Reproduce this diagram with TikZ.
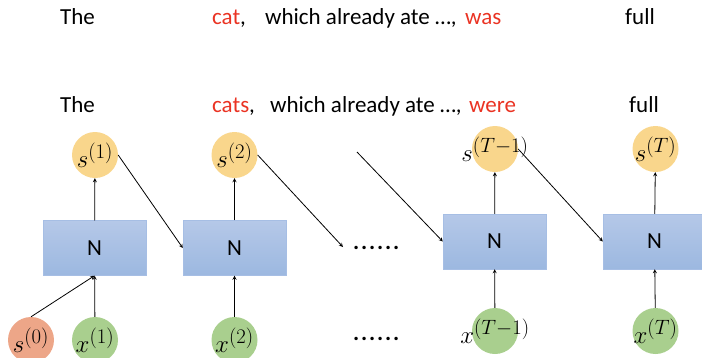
\documentclass[tikz,border=0pt]{standalone}
\usepackage{fontspec}
\setmainfont{Carlito}
\usepackage{amsmath}
\usepackage{tikz}
\usetikzlibrary{arrows}

\definecolor{wordred}{RGB}{234,51,35}
\definecolor{stategold}{RGB}{249,214,140}
\definecolor{inputgreen}{RGB}{169,207,142}
\definecolor{initsalmon}{RGB}{237,166,136}
\definecolor{celltop}{RGB}{181,200,232}
\definecolor{cellbot}{RGB}{156,184,224}
\definecolor{celledge}{RGB}{166,190,228}

% labels wider than the circle must not grow it
\newcommand{\steplabel}[1]{\makebox[0pt]{$#1$}}

\tikzset{
	word/.style={anchor=base west,inner sep=0pt,font=\fontsize{23}{27}\selectfont},
	cell/.style={draw=celledge,top color=celltop,bottom color=cellbot,minimum width=103pt,minimum height=55pt,inner sep=0pt,font=\fontsize{23}{27}\selectfont},
	state/.style={circle,fill=stategold,minimum size=46pt,inner sep=0pt,font=\fontsize{28}{30}\selectfont},
	input/.style={state,fill=inputgreen},
	gap/.style={word,font=\fontsize{23}{27}\selectfont\bfseries\addfontfeature{LetterSpace=8}},
	link/.style={line width=0.8pt,-stealth}
}

\begin{document}
\begin{tikzpicture}[x=1pt,y=-1pt]
	\useasboundingbox (0,0) rectangle (702,357);
	
	%sentences
	\node[word] (the1) at (60,24) {The};
	\node[word] (cat) at (212,24) {\textcolor{wordred}{cat},};
	\node[word] (mid1) at (265,24) {which already ate …,};
	\node[word,wordred] (was) at (465,24) {was};
	\node[word] (full1) at (625,24) {full};
	\node[word] (the2) at (60,112) {The};
	\node[word] (cats) at (212,112) {\textcolor{wordred}{cats},};
	\node[word] (mid2) at (270,112) {which already ate …,};
	\node[word,wordred] (were) at (469,112) {were};
	\node[word] (full2) at (629,112) {full};
	
	%cells
	\node[cell] (n1) at (94.5,248) {N};
	\node[cell] (n2) at (234.5,248) {N};
	\node[cell] (n3) at (494.5,241.5) {N};
	\node[cell] (n4) at (654.5,241.5) {N};
	
	%states
	\node[state] (s1) at (95,155) {\steplabel{s^{(1)}}};
	\node[state] (s2) at (234.5,155) {\steplabel{s^{(2)}}};
	\node[state] (s3) at (495,149) {\steplabel{s^{(T-1)}}};
	\node[state] (s4) at (655.5,149) {\steplabel{s^{(T)}}};
	
	%inputs
	\node[state,fill=initsalmon] (s0) at (31,340) {\steplabel{s^{(0)}}};
	\node[input] (x1) at (95,340) {\steplabel{x^{(1)}}};
	\node[input] (x2) at (234.5,340) {\steplabel{x^{(2)}}};
	\node[input] (x3) at (495,331) {\steplabel{x^{(T-1)}}};
	\node[input] (x4) at (655.5,331) {\steplabel{x^{(T)}}};
	
	%gaps
	\node[gap] (dots1) at (353,249) {......};
	\node[gap] (dots2) at (353,340) {......};
	\coordinate (gapin) at (343,247);
	\coordinate (gapout) at (357,152);
	
	%arrows
	\foreach \i in {1,...,4}
	{\draw[link] (x\i) -- (n\i);
	\draw[link] (n\i) -- (s\i);}
	\draw[link] (s0.north) -- (n1.south);
	\draw[link] (s1.east) -- (n2.west);
	\draw[link] (s2.east) -- (gapin);
	\draw[link] (gapout) -- (n3.west);
	\draw[link] (s3.east) -- (n4.west);
\end{tikzpicture}
\end{document}
